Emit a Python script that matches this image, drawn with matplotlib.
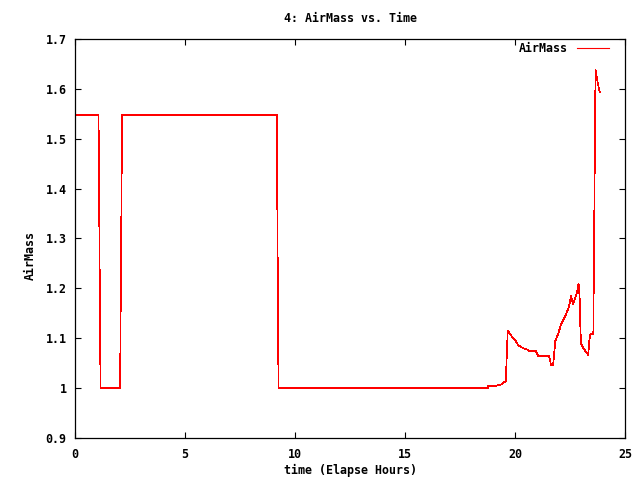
#!/usr/bin/env python3
"""AirMass vs. time, drawn in the old gnuplot png look."""

import matplotlib
matplotlib.use("Agg")
import matplotlib.pyplot as plt

# Elapsed hours and airmass
hours = [
    0.0, 1.07, 1.16, 2.05, 2.14, 9.17, 9.25,
    18.76, 18.78, 19.15, 19.20, 19.35, 19.55, 19.58, 19.67,
    19.85, 20.03, 20.15, 20.38, 20.53, 20.61, 20.94, 21.06,
    21.55, 21.59, 21.64, 21.73, 21.77, 21.83, 21.91, 21.97,
    22.09, 22.27, 22.45, 22.55, 22.57, 22.64, 22.73, 22.82,
    22.89, 22.94, 22.97, 23.00, 23.09, 23.24, 23.33, 23.38,
    23.42, 23.56, 23.66, 23.69, 23.74, 23.78, 23.83, 23.85,
]
airmass = [
    1.548, 1.548, 1.000, 1.000, 1.548, 1.548, 1.000,
    1.000, 1.004, 1.004, 1.006, 1.007, 1.013, 1.014, 1.115,
    1.104, 1.095, 1.086, 1.080, 1.078, 1.075, 1.075, 1.064,
    1.064, 1.056, 1.046, 1.046, 1.063, 1.094, 1.103, 1.110,
    1.127, 1.143, 1.163, 1.185, 1.180, 1.168, 1.180, 1.193,
    1.210, 1.180, 1.123, 1.090, 1.081, 1.072, 1.066, 1.096,
    1.108, 1.108, 1.638, 1.631, 1.618, 1.608, 1.598, 1.594,
]

x_ticks = [0, 5, 10, 15, 20, 25]
y_ticks = [0.9, 1.0, 1.1, 1.2, 1.3, 1.4, 1.5, 1.6, 1.7]
y_tick_labels = ["0.9", "1", "1.1", "1.2", "1.3", "1.4", "1.5", "1.6", "1.7"]

W, H = 640, 480
FONT = {"family": "DejaVu Sans Mono", "size": 8.4, "weight": "bold"}

fig = plt.figure(figsize=(W / 100, H / 100), dpi=100, facecolor="white")
ax = fig.add_axes([75 / W, 1 - 438 / H, 550 / W, 399 / H])

ax.plot(hours, airmass, color="#ff0000", linewidth=0.5, antialiased=False,
        label="AirMass")

ax.set_xlim(0, 25)
ax.set_ylim(0.9, 1.7)
ax.set_xticks(x_ticks)
ax.set_xticklabels([str(t) for t in x_ticks], fontdict=FONT)
ax.set_yticks(y_ticks)
ax.set_yticklabels(y_tick_labels, fontdict=FONT)
ax.tick_params(direction="in", length=4, width=0.8, top=True, right=True,
               colors="black")
ax.tick_params(axis="x", pad=7)
ax.tick_params(axis="y", pad=6)
for s in ax.spines.values():
    s.set_linewidth(0.9)
    s.set_color("black")

leg = ax.legend(loc="upper right", frameon=False, prop=FONT, markerfirst=False,
                handlelength=2.75, borderaxespad=0, borderpad=0,
                handletextpad=0.75,
                bbox_to_anchor=(609 / W, 1 - 42 / H),
                bbox_transform=fig.transFigure)
for h in leg.get_lines():
    h.set_linewidth(0.8)

fig.text(350 / W, 1 - 18 / H, "4: AirMass vs. Time", ha="center", va="center",
         fontdict=FONT)
fig.text(350 / W, 1 - 470 / H, "time (Elapse Hours)", ha="center", va="center",
         fontdict=FONT)
fig.text(30 / W, 1 - 255 / H, "AirMass", ha="center", va="center",
         rotation=90, fontdict=FONT)

fig.savefig("out.png", dpi=100, facecolor="white")
